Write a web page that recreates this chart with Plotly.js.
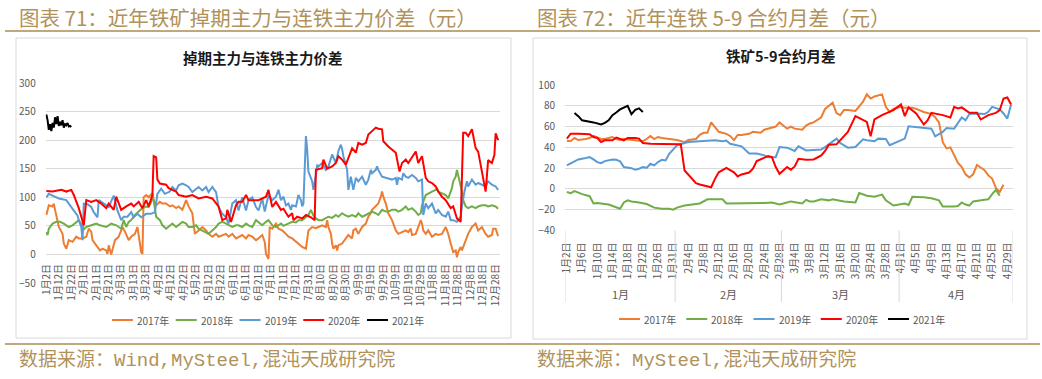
<!DOCTYPE html>
<html><head><meta charset="utf-8">
<script src="https://cdn.plot.ly/plotly-3.0.1.min.js"></script>
<style>html,body{margin:0;padding:0;background:#fff;}#chart{width:1042px;height:379px;}</style>
</head><body><div id="chart"></div>
<script>
// ---------- Left chart: 铁矿掉期主力与连铁主力价差 (x = day of year) ----------
const leftTickLabels = ['1月2日','1月12日','1月22日','2月1日','2月11日','2月21日','3月3日','3月13日','3月23日','4月2日','4月12日','4月22日','5月2日','5月12日','5月22日','6月1日','6月11日','6月21日','7月1日','7月11日','7月21日','7月31日','8月10日','8月20日','8月30日','9月9日','9月19日','9月29日','10月9日','10月19日','10月29日','11月8日','11月18日','11月28日','12月8日','12月18日','12月28日'];
const seriesNames = ['2017年','2018年','2019年','2020年','2021年'];

const swap2017 = [[2,69],[3,81],[4,86],[7,84],[8,89],[9,78],[10,69],[12,48],[15,36],[16,19],[18,10],[20,25],[23,22],[26,31],[28,28],[31,28],[34,31],[36,45],[38,40],[39,25],[42,16],[45,7],[47,10],[50,7],[51,1],[52,16],[54,0],[55,10],[57,25],[60,31],[62,42],[63,48],[65,40],[68,25],[70,31],[73,36],[75,48],[76,36],[77,19],[78,4],[79,1],[80,100],[82,104],[84,100],[87,107],[88,95],[90,86],[93,92],[95,89],[98,89],[101,84],[103,86],[106,81],[108,84],[111,78],[114,95],[116,84],[119,72],[120,48],[121,36],[124,42],[127,48],[130,42],[132,36],[135,31],[138,36],[140,31],[143,34],[146,36],[148,31],[151,36],[154,28],[156,30],[159,34],[162,28],[164,34],[167,31],[170,25],[172,28],[175,34],[177,22],[178,1],[180,-8],[181,48],[183,45],[186,54],[188,45],[191,42],[194,36],[196,31],[199,28],[202,22],[204,19],[207,13],[210,10],[211,25],[212,42],[215,48],[218,46],[220,48],[223,51],[226,48],[227,60],[228,48],[230,36],[231,19],[232,10],[234,16],[235,7],[236,16],[239,19],[242,28],[244,34],[247,28],[248,42],[250,45],[252,36],[255,48],[258,54],[260,66],[262,72],[263,78],[266,84],[268,89],[270,101],[271,110],[272,101],[274,89],[276,72],[279,60],[282,42],[284,36],[287,39],[290,42],[292,39],[294,45],[295,34],[298,36],[300,48],[302,60],[303,54],[304,42],[306,36],[308,42],[311,31],[314,36],[316,34],[319,36],[322,48],[324,36],[326,19],[327,10],[328,4],[330,7],[331,-5],[332,4],[334,13],[335,7],[338,25],[340,36],[343,48],[346,54],[348,42],[351,48],[354,36],[356,31],[359,34],[360,45],[362,45],[363,36],[364,32]];
const swap2018 = [[2,39],[3,34],[4,45],[7,54],[10,57],[13,57],[16,54],[20,48],[23,51],[26,57],[28,60],[30,54],[31,42],[34,48],[38,51],[42,54],[45,51],[50,48],[54,54],[58,51],[62,45],[63,54],[64,60],[66,48],[68,57],[70,60],[73,69],[76,75],[79,81],[82,84],[84,83],[86,92],[87,100],[88,95],[89,75],[90,66],[93,60],[95,51],[98,45],[100,48],[103,54],[106,48],[108,51],[111,57],[114,54],[116,48],[119,48],[122,51],[124,45],[127,42],[130,39],[132,36],[135,42],[138,48],[140,54],[143,57],[146,54],[148,51],[151,48],[154,51],[156,51],[159,48],[162,54],[164,51],[167,48],[170,60],[172,57],[175,51],[178,57],[180,60],[183,51],[186,48],[188,51],[190,54],[192,50],[194,52],[196,55],[199,57],[202,56],[204,60],[207,60],[209,63],[212,69],[214,78],[216,68],[218,63],[220,60],[223,60],[226,63],[228,66],[231,64],[234,69],[236,66],[239,72],[241,69],[244,66],[247,69],[250,66],[252,72],[255,66],[258,69],[260,72],[263,75],[266,72],[268,69],[271,78],[274,75],[276,75],[279,78],[282,78],[284,75],[287,78],[290,84],[292,78],[295,81],[298,75],[300,69],[302,72],[303,86],[306,104],[308,107],[311,110],[314,113],[315,116],[316,110],[319,107],[322,104],[324,98],[327,116],[328,128],[330,136],[331,148],[332,139],[334,116],[335,110],[336,95],[338,84],[340,81],[343,84],[346,81],[348,84],[351,86],[354,86],[356,84],[359,86],[362,84],[364,80]];
const swap2019 = [[2,100],[4,106],[7,103],[12,98],[18,95],[22,83],[24,77],[27,68],[28,60],[30,48],[31,25],[32,89],[35,88],[38,83],[40,74],[43,65],[44,95],[48,89],[52,83],[56,103],[59,77],[62,60],[64,66],[67,66],[70,74],[72,65],[75,71],[78,65],[82,71],[86,71],[89,74],[91,106],[94,115],[97,106],[101,110],[103,118],[106,112],[108,121],[111,124],[114,121],[116,118],[119,109],[122,115],[124,118],[127,112],[130,118],[132,109],[135,118],[138,109],[140,83],[143,71],[146,65],[148,54],[151,89],[154,95],[156,77],[159,100],[162,77],[164,95],[167,100],[170,83],[172,77],[175,98],[177,75],[180,104],[183,95],[186,101],[188,113],[190,95],[192,101],[194,86],[196,89],[198,78],[199,86],[202,84],[204,104],[206,95],[207,84],[208,89],[210,207],[211,184],[212,145],[215,128],[216,113],[218,139],[219,157],[220,154],[223,160],[226,148],[228,154],[231,175],[234,160],[236,181],[238,192],[239,184],[240,172],[243,148],[244,113],[246,136],[247,122],[248,113],[250,134],[252,128],[255,136],[258,122],[260,131],[262,148],[263,142],[266,148],[267,154],[268,148],[271,136],[274,134],[276,134],[279,131],[282,134],[283,122],[284,134],[287,131],[288,142],[290,136],[292,134],[295,139],[298,134],[300,128],[303,131],[304,69],[306,89],[308,81],[311,89],[314,72],[316,78],[319,69],[322,66],[324,75],[326,60],[328,60],[331,57],[334,66],[335,84],[337,110],[339,128],[340,119],[343,131],[346,122],[348,125],[351,122],[354,119],[356,128],[359,122],[362,119],[364,113]];
const swap2020 = [[2,111],[7,110],[11,112],[14,113],[18,110],[22,113],[24,104],[28,81],[32,51],[34,95],[38,92],[42,95],[46,89],[50,81],[52,89],[56,78],[58,101],[62,78],[66,84],[70,89],[72,84],[76,92],[79,81],[82,95],[84,84],[87,104],[88,172],[90,170],[91,131],[93,124],[98,122],[100,116],[106,110],[108,104],[114,101],[119,104],[124,98],[130,101],[135,98],[140,84],[143,60],[146,63],[147,78],[150,57],[154,86],[156,92],[159,92],[162,104],[164,95],[167,95],[172,95],[178,101],[180,113],[183,83],[186,92],[190,78],[192,80],[196,66],[199,72],[200,60],[203,66],[207,63],[210,69],[214,65],[217,60],[218,148],[223,151],[224,166],[227,150],[231,154],[234,160],[236,172],[239,166],[242,157],[244,169],[247,186],[250,178],[252,195],[255,192],[258,195],[260,210],[263,216],[266,222],[268,220],[271,219],[272,198],[276,189],[282,178],[285,145],[287,160],[290,166],[292,160],[295,169],[298,180],[300,160],[303,172],[306,134],[308,128],[311,125],[314,119],[316,110],[319,101],[322,95],[326,81],[328,84],[331,63],[334,57],[336,213],[338,213],[340,207],[343,219],[346,186],[348,180],[351,145],[354,110],[356,165],[359,160],[361,174],[362,212],[364,200]];
const swap2021 = [[2,245],[3,235],[4,218],[5,228],[6,216],[7,230],[8,222],[9,240],[10,228],[11,242],[12,225],[13,232],[14,226],[15,235],[16,222],[17,228],[18,226],[19,230],[20,224],[21,225],[22,223]];

// ---------- Right chart: 铁矿5-9合约月差 (x = category index, Jan..Apr) ----------
const rightTickLabels = ['1月2日','1月6日','1月10日','1月14日','1月18日','1月22日','1月26日','1月31日','2月4日','2月8日','2月12日','2月16日','2月20日','2月24日','2月28日','3月4日','3月8日','3月12日','3月16日','3月20日','3月24日','3月28日','4月1日','4月5日','4月9日','4月13日','4月17日','4月21日','4月25日','4月29日'];
const monthNames = ['1月','2月','3月','4月'];
const monthDayCounts = [29,28,31,30];

const spread2017 = [[0,46],[1,46],[2,49],[3,47],[5,48],[6,49],[7,51],[9,48],[10,48],[12,50],[13,48],[14,47],[15,48],[17,47],[18,47],[20,46],[21,48],[22,51],[23,48],[24,50],[25,49],[27,48],[29,47],[31,45],[32,47],[34,48],[35,52],[36,54],[37,54],[38,64],[39,60],[40,55],[42,53],[43,51],[44,47],[45,52],[46,52],[48,53],[49,55],[51,54],[52,57],[53,58],[55,60],[56,64],[58,58],[59,60],[60,58],[62,57],[63,61],[64,63],[65,64],[67,69],[68,77],[70,83],[71,73],[72,71],[73,76],[74,76],[76,75],[78,84],[79,91],[80,87],[81,89],[83,91],[84,79],[85,74],[86,77],[88,79],[89,78],[91,78],[92,77],[94,74],[96,72],[97,69],[98,64],[99,45],[100,39],[101,40],[102,32],[103,25],[104,21],[105,14],[106,11],[107,14],[108,23],[110,18],[111,13],[112,10],[113,1],[114,-3],[115,4]];
const spread2018 = [[0,-3],[1,-4],[2,-2],[4,-5],[6,-7],[7,-14],[8,-13.5],[10,-14.5],[11,-15],[14,-19],[15,-13],[16,-11],[17,-12],[19,-13],[21,-14.5],[23,-18],[25,-19],[27,-19],[28,-20],[29,-18],[31,-16],[33,-15],[35,-14],[37,-10],[38,-10],[41,-10],[42,-14],[45,-14],[48,-13.5],[52,-13.5],[54,-13],[56,-15],[58,-13],[59,-12],[62,-14],[63,-10.5],[64,-12],[65,-12],[67,-10],[69,-11],[70,-10],[73,-12],[76,-13],[77,-4],[79,-6.5],[81,-7.5],[83,-5.5],[84,-11],[86,-16],[88,-14.5],[89,-14],[90,-15.5],[91,-7.5],[94,-8],[96,-9],[98,-11],[99,-17],[102,-17],[103,-16.5],[104,-13],[105,-15],[106,-16],[107,-12],[110,-10.5],[111,-10],[112,-5],[113,-1],[114,-6.5]];
const spread2019 = [[0,22.6],[2,26.5],[3,28.4],[5,29.7],[6,30.6],[7,28.4],[8,25.8],[9,24.8],[10,26.8],[12,28.4],[13,28],[14,26.5],[15,21],[17,20],[18,18.4],[19,19.4],[20,21],[21,20.3],[22,24.2],[23,22.6],[24,25.8],[25,28],[26,27.4],[27,34],[28,37.7],[29,42],[31,44.2],[32,45.2],[36,46],[39,46.8],[41,45.8],[42,46.5],[43,43.5],[45,42],[46,41],[48,34],[50,34],[52,32.3],[53,30.6],[55,30.6],[56,40.3],[58,39.7],[59,37.7],[60,36.5],[61,41],[63,37],[65,37.5],[67,38],[68,40.3],[70,46],[71,48.4],[72,44.2],[74,39.7],[76,40.3],[78,47.7],[79,46.8],[81,45.8],[82,48.4],[84,48],[85,42],[87,45.2],[89,48.4],[90,60.3],[92,59.7],[94,58.7],[96,58],[97,50.6],[99,54.8],[100,58.7],[102,58],[104,68.7],[105,66],[106,72],[108,72.6],[110,72],[111,74.2],[112,79],[114,76.5],[115,72.6],[116,67.7],[117,81.3]];
const spread2020 = [[0,48.4],[1,53.2],[3,53.2],[4,53],[6,52.6],[7,50],[8,49],[9,45.2],[10,46.8],[12,46.8],[13,49.4],[15,46.8],[16,49],[18,49],[19,48.4],[20,44.2],[22,43.5],[25,43.2],[29,42.9],[30,42.9],[31,17.7],[34,5.5],[35,4.2],[38,1.6],[39,9.7],[40,16],[42,20.3],[44,16],[45,12],[46,13.9],[48,15.8],[49,19.4],[50,26.8],[52,30],[53,31.6],[54,30.6],[55,21],[56,14.5],[58,21],[59,18.4],[60,21.6],[61,29],[63,28],[65,28.4],[67,32.3],[68,36.5],[69,42.6],[71,42.9],[73,50.6],[74,54.8],[76,70],[79,64.5],[80,50.6],[81,66.8],[83,71],[85,74.2],[86,75.8],[88,81.3],[89,70],[90,78.4],[92,72.6],[94,62],[95,66],[96,73.2],[98,72],[99,71],[101,68.7],[102,79],[103,77.4],[104,78.4],[105,75.8],[106,73.2],[108,73.2],[109,66.8],[111,71],[113,73.2],[114,75.8],[115,87],[116,88],[117,81.3]];
const spread2021 = [[2,73],[3,70],[4,66],[5,65.5],[6,65],[7,64],[9,62],[10,63.5],[11,66],[12,71],[13,73.5],[14,76.5],[16,80],[17,72],[18,76],[19,77.5],[20,74]];

const seriesColors = ['#ED7D31','#70AD47','#5B9BD5','#FF0000','#000000'];

// ---------- build ----------
const W = 1042, H = 379;
const px = v => v / W, py = v => 1 - v / H;

function mk(pairs, i, xa, ya) {
  return {type:'scatter', mode:'lines', x: pairs.map(p => p[0]), y: pairs.map(p => p[1]),
    name: seriesNames[i], line:{color: seriesColors[i], width: 2},
    xaxis: xa, yaxis: ya, showlegend:false, hoverinfo:'skip'};
}
const leftSets = [swap2017, swap2018, swap2019, swap2020, swap2021];
const rightSets = [spread2017, spread2018, spread2019, spread2020, spread2021];
const traces = [];
leftSets.forEach((s, i) => traces.push(mk(s, i, 'x', 'y')));
rightSets.forEach((s, i) => traces.push(mk(s, i, 'x2', 'y2')));

const gold = '#B0925A', goldLine = '#A88B50', grid = '#D9D9D9', tickCol = '#595959';
const cjk = 'Noto Sans CJK SC, sans-serif';

// month dividers for right chart
const bounds = [-0.5];
monthDayCounts.forEach(c => bounds.push(bounds[bounds.length - 1] + c));
const shapes = [
  {type:'rect', xref:'paper', yref:'paper', x0:px(16), x1:px(511), y0:py(338), y1:py(38), line:{color:grid, width:1}},
  {type:'rect', xref:'paper', yref:'paper', x0:px(533), x1:px(1027), y0:py(339), y1:py(38), line:{color:grid, width:1}},
  {type:'line', xref:'paper', yref:'paper', x0:px(5), x1:px(1040), y0:py(31), y1:py(31), line:{color:goldLine, width:1.5}},
  {type:'line', xref:'paper', yref:'paper', x0:px(5), x1:px(1040), y0:py(344), y1:py(344), line:{color:goldLine, width:1.5}}
];
bounds.forEach(b => shapes.push({type:'line', xref:'x2', yref:'paper', x0:b, x1:b, y0:py(230.5), y1:py(302), line:{color:grid, width:1}}));

const annotations = [
  {text:'图表 71：近年铁矿掉期主力与连铁主力价差（元）', x:px(17), y:py(17), xref:'paper', yref:'paper', xanchor:'left', yanchor:'middle', showarrow:false, font:{family:cjk, size:20.5, color:gold}},
  {text:'图表 72：近年连铁 5-9 合约月差（元）', x:px(535), y:py(17), xref:'paper', yref:'paper', xanchor:'left', yanchor:'middle', showarrow:false, font:{family:cjk, size:20.5, color:gold}},
  {text:'数据来源：Wind,MySteel,混沌天成研究院', x:px(17), y:py(360), xref:'paper', yref:'paper', xanchor:'left', yanchor:'middle', showarrow:false, font:{family:'Liberation Mono, Noto Sans CJK SC, monospace', size:19, color:gold}},
  {text:'数据来源：MySteel,混沌天成研究院', x:px(535), y:py(360), xref:'paper', yref:'paper', xanchor:'left', yanchor:'middle', showarrow:false, font:{family:'Liberation Mono, Noto Sans CJK SC, monospace', size:19, color:gold}},
  {text:'掉期主力与连铁主力价差', x:px(263), y:py(57), xref:'paper', yref:'paper', xanchor:'center', yanchor:'middle', showarrow:false, font:{family:cjk, size:14.5, color:'#1a1a1a', weight:'bold'}},
  {text:'铁矿5-9合约月差', x:px(780), y:py(56), xref:'paper', yref:'paper', xanchor:'center', yanchor:'middle', showarrow:false, font:{family:cjk, size:14.5, color:'#1a1a1a', weight:'bold'}}
];
monthNames.forEach((m, i) => annotations.push({text:m, x:(bounds[i] + bounds[i+1]) / 2, y:py(294), xref:'x2', yref:'paper', xanchor:'center', yanchor:'middle', showarrow:false, font:{family:cjk, size:11, color:tickCol}}));

// legends (line swatch + label), one per chart
const legendSpecs = [{start:112, step:63.75, y:320}, {start:619, step:67.25, y:319}];
legendSpecs.forEach(spec => {
  seriesNames.forEach((n, i) => {
    const x0 = spec.start + spec.step * i;
    shapes.push({type:'line', xref:'paper', yref:'paper', x0:px(x0), x1:px(x0 + 21), y0:py(spec.y), y1:py(spec.y), line:{color:seriesColors[i], width:2}});
    annotations.push({text:n, x:px(x0 + 23), y:py(spec.y), xref:'paper', yref:'paper', xanchor:'left', yanchor:'middle', showarrow:false, font:{family:cjk, size:10, color:tickCol}});
  });
});

const layout = {
  width: W, height: H, margin:{l:0, r:0, t:0, b:0}, paper_bgcolor:'#fff', plot_bgcolor:'rgba(0,0,0,0)',
  font:{family:cjk, color:tickCol}, showlegend:false,
  xaxis:{domain:[px(45.7), px(500)], range:[1.5, 365.5], anchor:'free', position:py(254),
    tickmode:'array', tickvals:leftTickLabels.map((_, i) => 2 + 10 * i), ticktext:leftTickLabels,
    tickangle:-90, tickfont:{size:10, color:tickCol, family:cjk}, showgrid:false, zeroline:false, showline:false,
    ticks:'outside', ticklen:5, tickcolor:'rgba(0,0,0,0)', automargin:false, fixedrange:true},
  yaxis:{domain:[py(283), py(83)], range:[-50, 300], tick0:0, dtick:50, gridcolor:grid, gridwidth:1,
    zeroline:false, showline:false, tickfont:{size:10, color:tickCol, family:cjk},
    ticks:'outside', ticklen:7, tickcolor:'rgba(0,0,0,0)', automargin:false, fixedrange:true},
  xaxis2:{domain:[px(565), px(1013)], range:[-0.5, 117.5], anchor:'y2',
    tickmode:'array', tickvals:rightTickLabels.map((_, i) => 4 * i), ticktext:rightTickLabels,
    tickangle:-90, tickfont:{size:10, color:tickCol, family:cjk}, showgrid:false, zeroline:false,
    showline:false, ticks:'outside', ticklen:7, tickcolor:'rgba(0,0,0,0)', automargin:false, fixedrange:true},
  yaxis2:{domain:[py(230.5), py(85)], range:[-40, 100], tick0:0, dtick:20, anchor:'x2', gridcolor:grid, gridwidth:1,
    zeroline:false, showline:false, tickfont:{size:10, color:tickCol, family:cjk},
    ticks:'outside', ticklen:7, tickcolor:'rgba(0,0,0,0)', automargin:false, fixedrange:true},
  shapes: shapes, annotations: annotations
};
Plotly.newPlot('chart', traces, layout, {staticPlot:true, displayModeBar:false});
</script></body></html>
